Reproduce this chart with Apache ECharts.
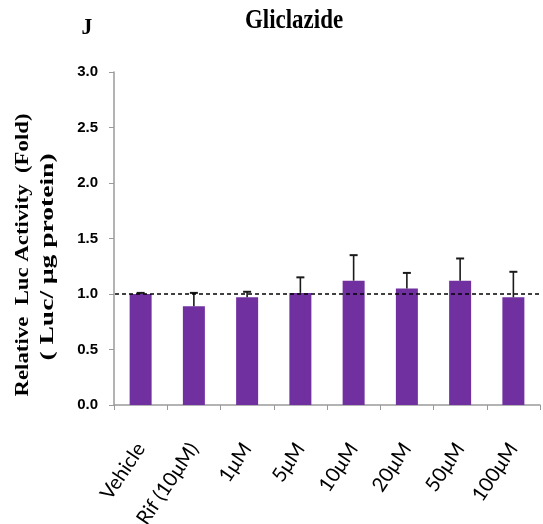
<!DOCTYPE html>
<html>
<head>
<meta charset="utf-8">
<script src="https://cdn.jsdelivr.net/npm/echarts@6/dist/echarts.min.js"></script>
<style>
  html, body { margin: 0; padding: 0; background: #fff; }
  #chart { width: 543px; height: 524px; }
</style>
</head>
<body>
<div id="chart"></div>
<script>
// Luciferase activity after gliclazide treatment (fold over vehicle)
var categories = ['Vehicle', 'Rif (10μM)', '1μM', '5μM', '10μM', '20μM', '50μM', '100μM'];
var means = [1.00, 0.89, 0.97, 1.01, 1.12, 1.05, 1.12, 0.97];
var errors = [0.01, 0.12, 0.05, 0.14, 0.23, 0.14, 0.20, 0.23];
var baseline = 1.0;

var chart = echarts.init(document.getElementById('chart'));

var errorData = means.map(function (m, i) { return [i, m, m + errors[i]]; });

var serifBold = { fontFamily: 'Liberation Serif', fontWeight: 'bold', fill: '#000',
                  align: 'center', verticalAlign: 'middle' };

chart.setOption({
  animation: false,
  backgroundColor: '#fff',
  grid: { left: 114, right: 3, top: 72, bottom: 119, containLabel: false, outerBoundsMode: 'none' },
  graphic: [
    { type: 'text', x: 294, y: 21, scaleX: 0.82,
      style: Object.assign({ text: 'Gliclazide', fontSize: 28 }, serifBold) },
    { type: 'text', x: 87, y: 28, scaleX: 0.9,
      style: Object.assign({ text: 'J', fontSize: 24 }, serifBold) },
    { type: 'text', x: 23, y: 255, rotation: Math.PI / 2, scaleX: 1.2,
      style: Object.assign({ text: 'Relative  Luc Activity  (Fold)', fontSize: 19 }, serifBold) },
    { type: 'text', x: 48, y: 257, rotation: Math.PI / 2, scaleX: 1.45,
      style: Object.assign({ text: '( Luc/ μg protein)', fontSize: 19 }, serifBold) }
  ],
  xAxis: [{
    type: 'category',
    data: categories,
    axisLine: { lineStyle: { color: '#9a9a9a', width: 1.5 } },
    axisTick: { show: true, length: 5, lineStyle: { color: '#9a9a9a' } },
    axisLabel: {
      rotate: 56, interval: 0, margin: 40,
      fontFamily: 'Lato', fontSize: 20, color: '#000'
    }
  }, {
    type: 'value', show: false, min: 0, max: 1
  }],
  yAxis: {
    type: 'value', min: 0, max: 3, interval: 0.5,
    splitLine: { show: false },
    axisLine: { show: true, lineStyle: { color: '#9a9a9a', width: 1.5 } },
    axisTick: { show: true, length: 5, lineStyle: { color: '#9a9a9a' } },
    axisLabel: {
      margin: 16, fontFamily: 'Liberation Sans', fontWeight: 'bold', fontSize: 15, color: '#000',
      formatter: function (v) { return v.toFixed(1); }
    }
  },
  series: [{
    type: 'bar',
    data: means,
    barWidth: 22,
    itemStyle: { color: '#7030A0' }
  }, {
    type: 'custom',
    data: errorData,
    encode: { x: 0, y: [1, 2] },
    z: 5,
    renderItem: function (params, api) {
      var x = api.value(0);
      var lo = api.coord([x, api.value(1)]);
      var hi = api.coord([x, api.value(2)]);
      var cap = 4;
      return {
        type: 'group',
        children: [
          { type: 'line', shape: { x1: lo[0], y1: lo[1], x2: hi[0], y2: hi[1] },
            style: { stroke: '#1a1a1a', lineWidth: 1.6 } },
          { type: 'line', shape: { x1: hi[0] - cap, y1: hi[1], x2: hi[0] + cap, y2: hi[1] },
            style: { stroke: '#1a1a1a', lineWidth: 2 } }
        ]
      };
    }
  }, {
    // dashed reference line at fold = 1, running slightly past the plot edges
    type: 'line',
    xAxisIndex: 1,
    data: [[-0.014, baseline], [1.01, baseline]],
    clip: false,
    symbol: 'none',
    z: 6,
    lineStyle: { color: '#000', width: 1.3, type: [4, 3] }
  }]
});
</script>
</body>
</html>
